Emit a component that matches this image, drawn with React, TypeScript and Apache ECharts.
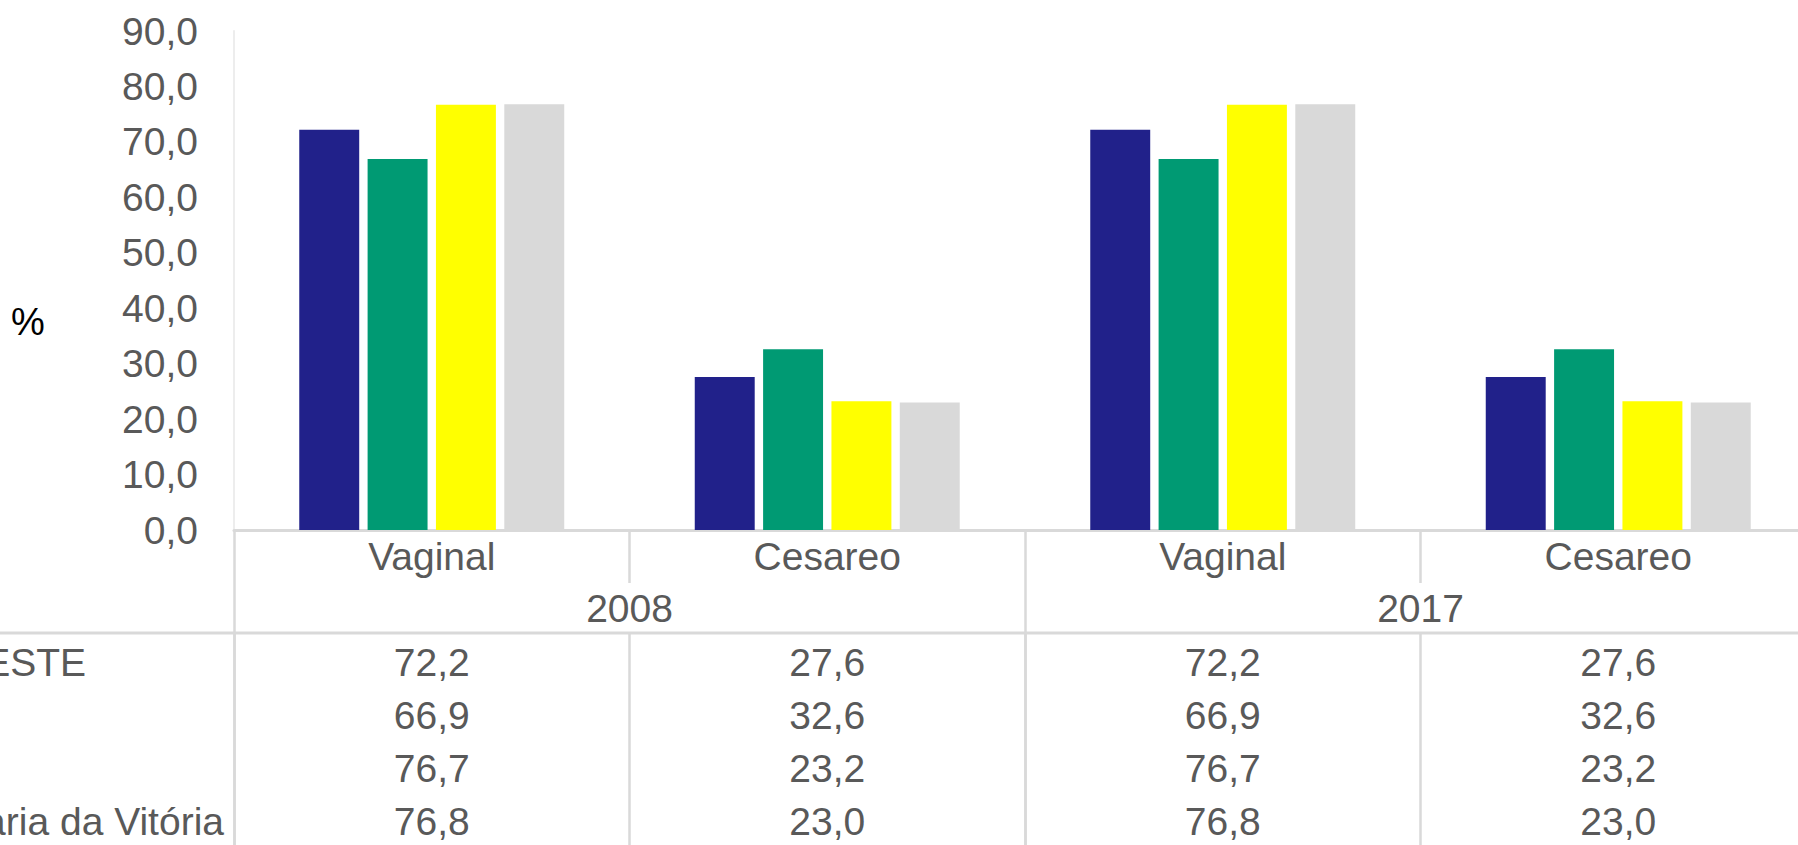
import React, { useEffect, useRef } from 'react';
import * as echarts from 'echarts';

// ---- Data ----
const categories = ['Vaginal', 'Cesareo', 'Vaginal', 'Cesareo'];
const years = ['2008', '2017'];
const yTicks = { min: 0, max: 90, interval: 10 };

const seriesNames = ['NORDESTE', 'Série 2', 'Série 3', 'Santa Maria da Vitória'];
const nordeste = [72.2, 27.6, 72.2, 27.6];
const serie2 = [66.9, 32.6, 66.9, 32.6];
const serie3 = [76.7, 23.2, 76.7, 23.2];
const santaMaria = [76.8, 23.0, 76.8, 23.0];
const seriesValues = [nordeste, serie2, serie3, santaMaria];
const seriesColors = ['#21218A', '#009A73', '#FFFF00', '#D9D9D9'];

const fmt = (v: number) => v.toFixed(1).replace('.', ',');

export default function App() {
  const ref = useRef<HTMLDivElement>(null);

  useEffect(() => {
    document.body.style.margin = '0';
    document.body.style.overflow = 'hidden';
    const chart = echarts.init(ref.current!, null, { renderer: 'svg' });
    const FONT = "'Liberation Sans', Arial, sans-serif";
    const TXT = '#595959';
    const LINE = '#D9D9D9';
    const FS = 39;
    const axisY = 530;
    const rowAxisY = 633;
    const rowCenters = [662, 715, 768, 821];

    const rowAxes = seriesValues.map((vals, i) => ({
      type: 'category',
      data: vals.map(fmt),
      position: 'bottom',
      offset: rowAxisY - axisY,
      axisLine: { show: false },
      axisTick: {
        show: i === 0,
        interval: 0,
        length: 260,
        lineStyle: { color: LINE, width: 2.5 },
      },
      axisLabel: {
        interval: 0,
        margin: rowCenters[i] - rowAxisY,
        verticalAlign: 'middle',
        color: TXT,
        fontSize: FS,
        fontFamily: FONT,
      },
    }));

    const option: any = {
      animation: false,
      backgroundColor: '#ffffff',
      grid: {
        left: 234,
        top: 31,
        right: -18,
        bottom: 845 - axisY,
        containLabel: false,
        outerBoundsMode: 'none',
      },
      xAxis: [
        {
          type: 'category',
          data: categories,
          position: 'bottom',
          axisLine: { show: true, lineStyle: { color: LINE, width: 3 } },
          axisTick: {
            show: true,
            interval: 0,
            length: 53,
            lineStyle: { color: LINE, width: 2.5 },
          },
          axisLabel: {
            interval: 0,
            margin: 26,
            verticalAlign: 'middle',
            color: TXT,
            fontSize: FS,
            fontFamily: FONT,
          },
        },
        {
          type: 'category',
          data: years,
          position: 'bottom',
          offset: 53,
          axisLine: { show: false },
          axisTick: {
            show: true,
            interval: 0,
            length: 320,
            lineStyle: { color: LINE, width: 2.5 },
          },
          axisLabel: {
            interval: 0,
            margin: 25,
            verticalAlign: 'middle',
            color: TXT,
            fontSize: FS,
            fontFamily: FONT,
          },
        },
        ...rowAxes,
      ],
      yAxis: {
        type: 'value',
        min: yTicks.min,
        max: yTicks.max,
        interval: yTicks.interval,
        axisLine: { show: true, lineStyle: { color: '#EDEDED', width: 2 } },
        axisTick: { show: false },
        splitLine: { show: false },
        axisLabel: {
          margin: 36,
          color: TXT,
          fontSize: FS,
          fontFamily: FONT,
          formatter: (v: number) => fmt(v),
        },
      },
      series: seriesValues.map((vals, i) => ({
        type: 'bar',
        name: seriesNames[i],
        data: vals,
        xAxisIndex: 0,
        barGap: '14%',
        barCategoryGap: '33%',
        itemStyle: { color: seriesColors[i] },
      })),
      graphic: [
        {
          type: 'line',
          shape: { x1: 0, y1: rowAxisY, x2: 1798, y2: rowAxisY },
          style: { stroke: LINE, lineWidth: 3 },
          silent: true,
        },
        {
          type: 'text',
          x: 28,
          y: 322,
          style: {
            text: '%',
            fill: '#000000',
            fontSize: 38,
            fontFamily: FONT,
            textAlign: 'center',
            textVerticalAlign: 'middle',
          },
        },
        {
          type: 'text',
          x: 86,
          y: rowCenters[0],
          style: {
            text: seriesNames[0],
            fill: TXT,
            fontSize: FS,
            fontFamily: FONT,
            textAlign: 'right',
            textVerticalAlign: 'middle',
          },
        },
        {
          type: 'text',
          x: 224,
          y: rowCenters[3],
          style: {
            text: seriesNames[3],
            fill: TXT,
            fontSize: FS,
            fontFamily: FONT,
            textAlign: 'right',
            textVerticalAlign: 'middle',
          },
        },
      ],
    };

    chart.setOption(option);
    return () => chart.dispose();
  }, []);

  return <div ref={ref} style={{ width: 1798, height: 845 }} />;
}
